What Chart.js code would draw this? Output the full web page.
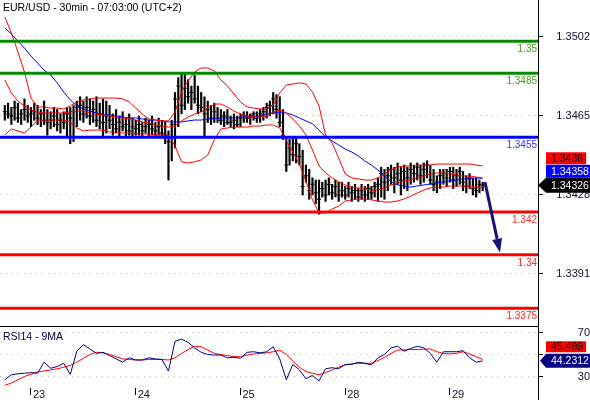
<!DOCTYPE html>
<html>
<head>
<meta charset="utf-8">
<title>EUR/USD 30min</title>
<script src="https://cdn.jsdelivr.net/npm/chart.js@4.4.0/dist/chart.umd.min.js"></script>
<style>
  body { margin: 0; background: #fff; }
  #wrap { position: relative; width: 590px; height: 400px; overflow: hidden; background: #fff; }
  canvas { position: absolute; left: 0; }
  #main { top: 0; width: 590px; height: 326px; }
  #rsi { top: 326px; width: 590px; height: 74px; }
  .lbl { position: absolute; left: 3px; font: 10.5px "Liberation Sans", Arial, sans-serif; line-height: 13px; white-space: nowrap; color: #000; }
</style>
</head>
<body>
<div id="wrap">
  <canvas id="main" width="590" height="326"></canvas>
  <canvas id="rsi" width="590" height="74"></canvas>
  <div class="lbl" style="top:1px">EUR/USD - 30min - 07:03:00 (UTC+2)</div>
  <div class="lbl" style="top:330px;color:#000033">RSI14 - 9MA</div>
</div>
<script>
// ---- data: 30 min bars, index 0..146 ----
const barHigh = [
  1.3470,1.3471,1.3469,1.3472,1.3471,1.3468,1.3473,1.3470,1.3469,1.3471,1.3470,1.3468,1.3472,1.3468,1.3467,1.3469,1.3468,1.3466,1.3467,1.3469,
  1.3469,1.3470,1.3472,1.3474,1.3472,1.3474,1.3473,1.3472,1.3474,1.3471,1.3473,1.3472,1.3470,1.3466,1.3468,1.3465,1.3467,1.3464,1.3466,1.3464,
  1.3463,1.3465,1.3462,1.3464,1.3463,1.3465,1.3462,1.3464,1.3463,1.3462,1.3458,1.3463,1.3476,1.3483,1.3485,1.3485,1.3482,1.3479,1.3484,1.3479,
  1.3476,1.3474,1.3472,1.3470,1.3471,1.3469,1.3468,1.3467,1.3468,1.3465,1.3466,1.3465,1.3466,1.3467,1.3467,1.3466,1.3467,1.3467,1.3468,1.3469,
  1.3471,1.3472,1.3476,1.3475,1.3474,1.3468,1.3455,1.3454,1.3455,1.3455,1.3452,1.3449,1.3442,1.3440,1.3436,1.3435,1.3435,1.3434,1.3435,1.3436,
  1.3433,1.3435,1.3434,1.3434,1.3432,1.3434,1.3432,1.3433,1.3431,1.3433,1.3432,1.3433,1.3432,1.3434,1.3436,1.3441,1.3440,1.3441,1.3442,1.3441,
  1.3443,1.3441,1.3442,1.3441,1.3443,1.3442,1.3443,1.3442,1.3443,1.3444,1.3442,1.3440,1.3437,1.3440,1.3440,1.3440,1.3441,1.3441,1.3440,1.3441,
  1.3439,1.3437,1.3438,1.3436,1.3436,1.3435,1.3434
];
const barLow = [
  1.3463,1.3464,1.3461,1.3463,1.3462,1.3461,1.3463,1.3462,1.3460,1.3463,1.3461,1.3460,1.3461,1.3456,1.3459,1.3460,1.3458,1.3457,1.3459,1.3455,
  1.3452,1.3453,1.3460,1.3463,1.3462,1.3464,1.3461,1.3462,1.3460,1.3459,1.3455,1.3457,1.3459,1.3456,1.3457,1.3455,1.3458,1.3455,1.3456,1.3455,
  1.3456,1.3456,1.3455,1.3457,1.3455,1.3456,1.3455,1.3456,1.3455,1.3452,1.3435,1.3444,1.3450,1.3460,1.3466,1.3468,1.3471,1.3468,1.3471,1.3466,
  1.3467,1.3455,1.3462,1.3461,1.3462,1.3462,1.3461,1.3460,1.3461,1.3460,1.3459,1.3460,1.3460,1.3462,1.3462,1.3461,1.3463,1.3462,1.3462,1.3463,
  1.3464,1.3465,1.3466,1.3464,1.3460,1.3454,1.3439,1.3442,1.3444,1.3443,1.3442,1.3428,1.3434,1.3426,1.3428,1.3424,1.3419,1.3427,1.3425,1.3428,
  1.3426,1.3427,1.3425,1.3427,1.3426,1.3427,1.3425,1.3426,1.3425,1.3426,1.3425,1.3426,1.3426,1.3427,1.3425,1.3427,1.3426,1.3430,1.3433,1.3429,
  1.3433,1.3428,1.3431,1.3430,1.3433,1.3434,1.3435,1.3433,1.3434,1.3436,1.3433,1.3430,1.3429,1.3431,1.3433,1.3432,1.3434,1.3431,1.3432,1.3433,
  1.3430,1.3429,1.3431,1.3428,1.3427,1.3429,1.3430
];
const barClose = [
  1.3467,1.3466,1.3465,1.3469,1.3464,1.3466,1.3468,1.3465,1.3466,1.3467,1.3464,1.3466,1.3463,1.3462,1.3463,1.3465,1.3461,1.3463,1.3462,1.3466,
  1.3464,1.3467,1.3469,1.3470,1.3466,1.3469,1.3465,1.3468,1.3463,1.3466,1.3462,1.3465,1.3463,1.3461,1.3459,1.3462,1.3460,1.3461,1.3458,1.3460,
  1.3459,1.3461,1.3458,1.3460,1.3461,1.3459,1.3458,1.3460,1.3457,1.3456,1.3453,1.3461,1.3473,1.3479,1.3470,1.3478,1.3474,1.3476,1.3473,1.3470,
  1.3469,1.3466,1.3468,1.3464,1.3467,1.3464,1.3463,1.3465,1.3462,1.3462,1.3463,1.3461,1.3464,1.3465,1.3464,1.3465,1.3466,1.3464,1.3466,1.3467,
  1.3469,1.3470,1.3473,1.3468,1.3462,1.3456,1.3442,1.3450,1.3447,1.3452,1.3446,1.3432,1.3437,1.3430,1.3433,1.3429,1.3426,1.3431,1.3428,1.3433,
  1.3429,1.3432,1.3428,1.3430,1.3428,1.3431,1.3429,1.3430,1.3427,1.3430,1.3428,1.3431,1.3429,1.3432,1.3433,1.3438,1.3434,1.3437,1.3440,1.3436,
  1.3438,1.3435,1.3439,1.3436,1.3440,1.3438,1.3441,1.3437,1.3440,1.3442,1.3435,1.3433,1.3434,1.3437,1.3438,1.3436,1.3439,1.3435,1.3437,1.3439,
  1.3434,1.3432,1.3436,1.3431,1.3430,1.3433,1.34326
];

// indicators, read every second bar (bar 0, 2, 4 ... 146)
const bbUpper = [
  1.35114,1.35039,1.34950,1.34856,1.34734,1.34692,1.34692,1.34687,1.34687,1.34683,1.34697,1.34716,1.34725,1.34730,1.34734,1.34734,1.34734,1.34734,1.34730,1.34716,
  1.34687,1.34659,1.34636,1.34631,1.34627,1.34627,1.34669,1.34762,1.34814,1.34856,1.34875,1.34875,1.34861,1.34819,1.34791,1.34753,1.34716,1.34692,1.34687,1.34683,
  1.34683,1.34701,1.34758,1.34795,1.34800,1.34805,1.34800,1.34762,1.34697,1.34561,1.34524,1.34453,1.34378,1.34360,1.34355,1.34350,1.34350,1.34360,1.34378,1.34397,
  1.34411,1.34416,1.34416,1.34420,1.34420,1.34420,1.34425,1.34425,1.34425,1.34425,1.34425,1.34425,1.34420,1.34416
];
const bbMid = [
  1.34819,1.34758,1.34720,1.34697,1.34678,1.34669,1.34664,1.34664,1.34664,1.34664,1.34669,1.34673,1.34673,1.34664,1.34659,1.34655,1.34650,1.34645,1.34641,1.34636,
  1.34631,1.34622,1.34617,1.34608,1.34603,1.34598,1.34603,1.34627,1.34645,1.34659,1.34669,1.34687,1.34706,1.34706,1.34692,1.34673,1.34659,1.34650,1.34645,1.34645,
  1.34650,1.34669,1.34678,1.34664,1.34636,1.34603,1.34561,1.34491,1.34416,1.34383,1.34360,1.34341,1.34327,1.34317,1.34313,1.34308,1.34303,1.34303,1.34313,1.34327,
  1.34336,1.34345,1.34350,1.34360,1.34369,1.34378,1.34383,1.34383,1.34378,1.34374,1.34369,1.34369,1.34364,1.3436
];
const bbLower = [
  1.34561,1.34589,1.34580,1.34570,1.34598,1.34631,1.34631,1.34631,1.34631,1.34631,1.34622,1.34594,1.34580,1.34584,1.34584,1.34584,1.34575,1.34575,1.34570,1.34570,
  1.34566,1.34566,1.34566,1.34561,1.34561,1.34561,1.34510,1.34435,1.34430,1.34435,1.34444,1.34467,1.34538,1.34589,1.34594,1.34598,1.34598,1.34598,1.34603,1.34603,
  1.34608,1.34608,1.34594,1.34533,1.34481,1.34425,1.34345,1.34257,1.34196,1.34196,1.34214,1.34228,1.34252,1.34257,1.34261,1.34261,1.34257,1.34252,1.34247,1.34247,
  1.34252,1.34261,1.34275,1.34289,1.34303,1.34313,1.34317,1.34317,1.34322,1.34322,1.34322,1.34322,1.34317,1.34317
];
const maBlue = [
  1.35062,1.35034,1.35001,1.34968,1.34931,1.34898,1.34865,1.34842,1.34805,1.34762,1.34725,1.34697,1.34683,1.34673,1.34664,1.34655,1.34655,1.34650,1.34645,1.34641,
  1.34641,1.34636,1.34631,1.34631,1.34627,1.34622,1.34622,1.34622,1.34627,1.34631,1.34631,1.34636,1.34636,1.34641,1.34641,1.34641,1.34645,1.34645,1.34645,1.34650,
  1.34659,1.34664,1.34669,1.34664,1.34655,1.34641,1.34627,1.34613,1.34584,1.34552,1.34533,1.34514,1.34495,1.34481,1.34463,1.34439,1.34420,1.34397,1.34369,1.34341,
  1.34327,1.34322,1.34317,1.34322,1.34327,1.34331,1.34336,1.34341,1.34345,1.34350,1.34355,1.34355,1.34360,1.34358
];
const rsi14 = [
  27,31.5,32.5,33,33.5,33,43,37.5,39,42,32,53,59,55,51,52,49,46,43,47,
  45,45,47,46,45.5,35,62,64,61,56,52,50,49.5,49.5,47,47.5,46.5,52,52.5,51.5,
  52.5,57,46,27,41,36,28,31,26,37,38,37,41,41,43,42,40.5,47,50,56,
  57.5,53,55.5,57.5,56,51,43,52.5,52.5,52.5,53.5,47,43,44.2312
];
const rsiMa9 = [
  22,24,27,30,32,34,35,36,37,38.5,40,43,46.5,50,52,51.5,50,48,46,45.5,
  45,45,45.5,45.5,45.5,45,47,51,54.5,57.5,57,54,51,50,49,48,48,49.5,50.5,51,
  51.5,52.5,54,50,44,38.5,34.5,33,31.5,33.5,36,38.5,40.5,41.5,42,42,42,44.5,47.5,51,
  54,54.2,54.5,54.5,54.8,55,52.5,51,50.5,51,52.5,50.5,48,45.499
];

const dayTicks = [8, 40, 72, 104, 136];
const dayLabels = ['23', '24', '25', '28', '29'];
const priceTicks = [1.3502, 1.3465, 1.3428, 1.3391];
const rsiTicks = [70, 50, 30];
const levels = [1.35, 1.3485, 1.3455, 1.342, 1.34, 1.3375];
const forecastFrom = [146.7, 1.3434];
const forecastTo = [151.3, 1.3401];

// ---- drawing ----
const FAMILY = '"Liberation Sans", Arial, sans-serif';
const LEVEL_FONT = '10px ' + FAMILY;
const TAG_FONT = '10.5px ' + FAMILY;
Chart.defaults.font.family = FAMILY;
Chart.defaults.font.size = 11;

const xMin = -1.47, xMax = 162.9;
const levelStyle = [
  ['#008c00', '#4c9a1c'], ['#008c00', '#4c9a1c'], ['#0000ff', '#3333ff'],
  ['#ff0000', '#ff2a2a'], ['#ff0000', '#ff2a2a'], ['#ff0000', '#ff2a2a']
];
const every2 = arr => arr.map((v, k) => ({x: k * 2, y: v}));
const noPadY = s => { s.width = 52; s.paddingTop = 0; s.paddingBottom = 0; };

function tag(ctx, text, yc, h, bg, fg, tipX) {
  ctx.font = TAG_FONT;
  const w = ctx.measureText(text).width;
  const x0 = 546, x1 = Math.min(590, 551 + w + 3);
  ctx.fillStyle = bg;
  ctx.beginPath();
  if (tipX !== undefined) {
    ctx.moveTo(tipX, yc);
    ctx.lineTo(x0, yc - h / 2);
  } else {
    ctx.moveTo(x0, yc - h / 2);
  }
  ctx.lineTo(x1, yc - h / 2);
  ctx.lineTo(x1, yc + h / 2);
  ctx.lineTo(x0, yc + h / 2);
  ctx.closePath();
  ctx.fill();
  ctx.fillStyle = fg;
  ctx.textAlign = 'left';
  ctx.textBaseline = 'middle';
  ctx.fillText(text, 551, yc + 0.5);
}

const mainOverlay = {
  id: 'mainOverlay',
  afterDatasetsDraw(chart) {
    const {ctx, chartArea: a, scales: {x, y}} = chart;
    ctx.save();
    levels.forEach((v, k) => {
      const py = y.getPixelForValue(v);
      ctx.strokeStyle = levelStyle[k][0];
      ctx.lineWidth = 3;
      ctx.beginPath();
      ctx.moveTo(a.left, py);
      ctx.lineTo(a.right, py);
      ctx.stroke();
      ctx.fillStyle = levelStyle[k][1];
      ctx.font = LEVEL_FONT;
      ctx.textAlign = 'right';
      ctx.textBaseline = 'top';
      ctx.fillText(String(v), a.right - 1, py + 3);
    });
    // forecast arrow
    const x0 = x.getPixelForValue(forecastFrom[0]), y0 = y.getPixelForValue(forecastFrom[1]);
    const x1 = x.getPixelForValue(forecastTo[0]), y1 = y.getPixelForValue(forecastTo[1]);
    const ang = Math.atan2(y1 - y0, x1 - x0);
    const head = 14, half = 5;
    const bx = x1 - head * Math.cos(ang), by = y1 - head * Math.sin(ang);
    ctx.strokeStyle = '#14147a';
    ctx.fillStyle = '#14147a';
    ctx.lineWidth = 3;
    ctx.beginPath();
    ctx.moveTo(x0, y0);
    ctx.lineTo(bx, by);
    ctx.stroke();
    ctx.beginPath();
    ctx.moveTo(x1, y1);
    ctx.lineTo(bx + half * Math.sin(ang), by - half * Math.cos(ang));
    ctx.lineTo(bx - half * Math.sin(ang), by + half * Math.cos(ang));
    ctx.closePath();
    ctx.fill();
    ctx.restore();
  },
  afterDraw(chart) {
    const {ctx, chartArea: a, scales: {y}} = chart;
    const last = barClose.length - 1;
    const yc = y.getPixelForValue(barClose[last]);
    ctx.save();
    tag(ctx, String(bbMid[bbMid.length - 1]), yc - 27, 12, '#ff0000', '#000');
    tag(ctx, String(maBlue[maBlue.length - 1]), yc - 14, 13, '#0000ff', '#fff');
    tag(ctx, String(barClose[last]), yc, 15, '#000', '#fff', a.right);
    ctx.restore();
  }
};

const rsiOverlay = {
  id: 'rsiOverlay',
  afterDraw(chart) {
    const {ctx, chartArea: a, scales: {y}} = chart;
    ctx.save();
    ctx.strokeStyle = '#000';
    ctx.lineWidth = 1;
    ctx.beginPath();
    ctx.moveTo(0, 0.5);
    ctx.lineTo(a.right + 1, 0.5);
    ctx.moveTo(a.right + 0.5, 0);
    ctx.lineTo(a.right + 0.5, chart.height);
    ctx.stroke();
    const yc = y.getPixelForValue(rsi14[rsi14.length - 1]);
    tag(ctx, String(rsiMa9[rsiMa9.length - 1]), yc - 14, 11, '#ff0000', '#000');
    tag(ctx, String(rsi14[rsi14.length - 1]), yc, 14, '#000080', '#fff', a.right + 2);
    ctx.restore();
  }
};

new Chart(document.getElementById('main'), {
  type: 'bar',
  data: {
    datasets: [
      {
        type: 'bar',
        data: barHigh.map((h, i) => ({x: i, y: [barLow[i], h]})),
        backgroundColor: '#000',
        borderWidth: 0,
        barThickness: 1.5,
        order: 6
      },
      {
        type: 'line',
        data: barClose.map((c, i) => ({x: i, y: c})),
        showLine: false,
        pointStyle: 'line',
        pointRadius: 2,
        pointBorderWidth: 1,
        pointBorderColor: '#000',
        order: 5
      },
      { type: 'line', data: every2(maBlue), borderColor: '#0000ff', borderWidth: 1, pointRadius: 0, order: 3 },
      { type: 'line', data: every2(bbLower), borderColor: '#ff0000', borderWidth: 1, pointRadius: 0, order: 2 },
      { type: 'line', data: every2(bbMid), borderColor: '#ff0000', borderWidth: 1, pointRadius: 0, order: 1 },
      { type: 'line', data: every2(bbUpper), borderColor: '#ff0000', borderWidth: 1, pointRadius: 0, order: 0 }
    ]
  },
  options: {
    responsive: false,
    animation: false,
    events: [],
    layout: { padding: 0, autoPadding: false },
    plugins: { legend: { display: false }, tooltip: { enabled: false } },
    scales: {
      x: { type: 'linear', min: xMin, max: xMax, offset: false, display: false },
      y: {
        position: 'right',
        min: 1.336663,
        max: 1.351933,
        afterBuildTicks: s => { s.ticks = priceTicks.map(v => ({value: v})); },
        afterFit: noPadY,
        ticks: {
          callback: v => Number(v).toFixed(4),
          crossAlign: 'far',
          padding: 10,
          color: '#10102a',
          font: { size: 11 }
        },
        grid: { color: '#b8b8b8', lineWidth: 1, drawTicks: true, tickLength: 5, tickColor: '#000', tickBorderDash: [], tickWidth: 1 },
        border: { display: true, color: '#000', width: 1, dash: [1, 5] }
      }
    }
  },
  plugins: [mainOverlay]
});

new Chart(document.getElementById('rsi'), {
  type: 'line',
  data: {
    datasets: [
      { data: every2(rsiMa9), borderColor: '#ff0000', borderWidth: 1, pointRadius: 0, order: 1 },
      { data: every2(rsi14), borderColor: '#000080', borderWidth: 1, pointRadius: 0, order: 0 }
    ]
  },
  options: {
    responsive: false,
    animation: false,
    events: [],
    layout: { padding: 0, autoPadding: false },
    plugins: { legend: { display: false }, tooltip: { enabled: false } },
    scales: {
      x: {
        type: 'linear',
        min: xMin,
        max: xMax,
        offset: false,
        afterBuildTicks: s => { s.ticks = dayTicks.map(v => ({value: v})); },
        afterFit: s => { s.height = 12; s.paddingLeft = 0; s.paddingRight = 0; },
        ticks: {
          callback: v => dayLabels[dayTicks.indexOf(v)],
          align: 'start',
          labelOffset: 2,
          padding: -7,
          autoSkip: false,
          maxRotation: 0,
          color: '#10102a',
          font: { size: 11 }
        },
        grid: { drawOnChartArea: false, drawTicks: true, tickLength: 7, tickColor: '#000', color: '#000' },
        border: { display: false }
      },
      y: {
        position: 'right',
        min: 19.55,
        max: 75.9,
        afterBuildTicks: s => { s.ticks = rsiTicks.map(v => ({value: v})); },
        afterFit: noPadY,
        ticks: {
          callback: v => (v === 50 ? '' : String(v)),
          crossAlign: 'far',
          padding: 32,
          color: '#10102a',
          font: { size: 11 }
        },
        grid: { color: '#b8b8b8', lineWidth: 1, drawTicks: true, tickLength: 5, tickColor: '#000', tickBorderDash: [], tickWidth: 1 },
        border: { display: false, dash: [1, 5] }
      }
    }
  },
  plugins: [rsiOverlay]
});
</script>
</body>
</html>
